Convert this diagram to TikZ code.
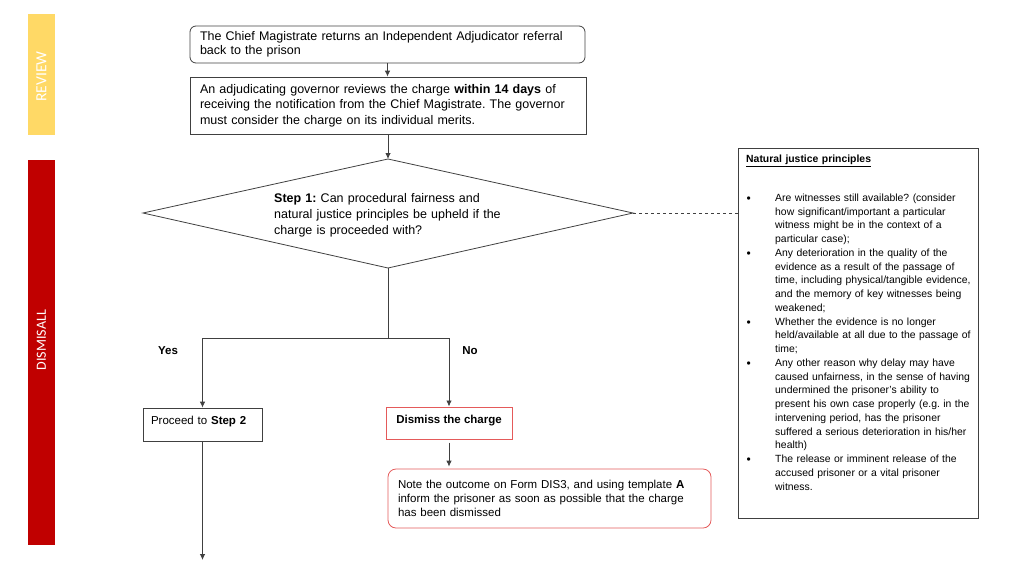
\documentclass[tikz,border=0pt]{standalone}
\usepackage{fontspec}
\setmainfont{Liberation Sans}
\newfontfamily\barfont{Carlito}
\usepackage{tikz}
\usetikzlibrary{arrows.meta, positioning}
\frenchspacing

\definecolor{reviewyellow}{RGB}{255,217,102}
\definecolor{dismissred}{RGB}{192,0,0}
\definecolor{boxred}{RGB}{228,90,90}
\definecolor{linegray}{RGB}{64,64,64}

\newcommand{\njpoint}[1]{\par\noindent\hangindent=29pt\hangafter=1\makebox[29pt][l]{\hspace{0.5pt}\raisebox{-1.2pt}{\fontsize{12}{12}\selectfont\textbullet}}#1}

\begin{document}
\begin{tikzpicture}[x=1pt, y=-1pt,
  every node/.style={font=\fontsize{11.5}{14}\selectfont, text=black},
  bigtext/.style={font=\fontsize{12.5}{#1}\selectfont},
  flowline/.style={draw=linegray, line width=0.8pt},
  arrow/.style={flowline, -{Latex[length=6pt,width=5.5pt]}},
  stepbox/.style={draw=linegray, line width=0.8pt, align=left, inner xsep=8pt},
  sidebar/.style={rotate=90, text=white, inner sep=0pt, font=\barfont\fontsize{14}{14}\selectfont}]
\useasboundingbox (0,0) rectangle (1024,576);

% side bars
\fill[reviewyellow] (28,14) rectangle (55,135);
\fill[dismissred] (28,160) rectangle (55,545);
\node[sidebar, font=\barfont\fontsize{15.5}{15.5}\selectfont] (review) at (41.5,76.5) {REVIEW};
\node[sidebar] (dismissall) at (41.5,340) {DISMISALL};

% referral and review
\node[stepbox, rounded corners=6pt, text width=375, inner xsep=10pt, minimum height=37, bigtext=14] (referral) at (387.5,44.5)
  {The Chief Magistrate returns an Independent Adjudicator referral\\ back to the prison};
\node[stepbox, text width=376, inner xsep=10pt, minimum height=57, bigtext=15.5] (govreview) at (388,105.5)
  {An adjudicating governor reviews the charge \textbf{within 14 days} of\\ receiving the notification from the Chief Magistrate. The governor\\ must consider the charge on its individual merits.};

% step 1 decision
\coordinate (dtop) at (388,159);
\coordinate (dleft) at (143,213);
\coordinate (dright) at (633,213);
\coordinate (dbot) at (388,268);
\draw[flowline] (dtop) -- (dright) -- (dbot) -- (dleft) -- cycle;
\node[anchor=west, text width=240, align=left, inner sep=0pt, bigtext=16] (question) at (274,215)
  {\textbf{Step 1:} Can procedural fairness and\\ natural justice principles be upheld if the\\ charge is proceeded with?};

% natural justice principles
\node[draw=linegray, line width=0.8pt, minimum width=240, minimum height=370] (nj) at (858,333) {};
\node[anchor=north west, text width=232, align=left, inner sep=0pt, font=\fontsize{10.4}{13.75}\selectfont] (njtext) at (746,155)
  {\underline{\textbf{Natural justice principles}}\par\vspace{25pt}
   \njpoint{Are witnesses still available? (consider\newline how significant/important a particular\newline witness might be in the context of a\newline particular case);}
   \njpoint{Any deterioration in the quality of the\newline evidence as a result of the passage of\newline time, including physical/tangible evidence,\newline and the memory of key witnesses being\newline weakened;}
   \njpoint{Whether the evidence is no longer\newline held/available at all due to the passage of\newline time;}
   \njpoint{Any other reason why delay may have\newline caused unfairness, in the sense of having\newline undermined the prisoner's ability to\newline present his own case properly (e.g. in the\newline intervening period, has the prisoner\newline suffered a serious deterioration in his/her\newline health)}
   \njpoint{The release or imminent release of the\newline accused prisoner or a vital prisoner\newline witness.}\par};

% outcomes
\coordinate (split) at (388,338);
\node[stepbox, text width=103, minimum height=33, text depth=8pt] (proceed) at (202.5,424.5) {Proceed to \textbf{Step 2}};
\node[draw=boxred, line width=1pt, minimum width=126, minimum height=32, text depth=8pt, font=\bfseries\fontsize{11.5}{14}\selectfont] (dismiss) at (449,423) {Dismiss the charge};
\node[draw=boxred, line width=0.8pt, rounded corners=8pt, text width=303, inner xsep=10pt, minimum height=59, align=left] (note) at (549.5,498.5)
  {Note the outcome on Form DIS3, and using template \textbf{A}\\ inform the prisoner as soon as possible that the charge\\ has been dismissed};
\node[font=\bfseries\fontsize{11.5}{14}\selectfont] (yes) at (168,351) {Yes};
\node[font=\bfseries\fontsize{11.5}{14}\selectfont] (no) at (470,351) {No};
\coordinate (nextstep) at (202.5,560);

% connectors
\draw[arrow] (referral.south) -- (referral.south |- govreview.north);
\draw[arrow] (govreview.south) -- (dtop);
\draw[flowline, dashed] (dright) -- (dright -| nj.west);
\draw[flowline] (dbot) -- (split);
\draw[arrow] (split) -| (proceed.north);
\draw[arrow] (split) -| (dismiss.north);
\draw[arrow] ([yshift=-3pt]dismiss.south) -- ([yshift=2pt]dismiss.south |- note.north);
\draw[arrow] (proceed.south) -- (nextstep);
\end{tikzpicture}
\end{document}
